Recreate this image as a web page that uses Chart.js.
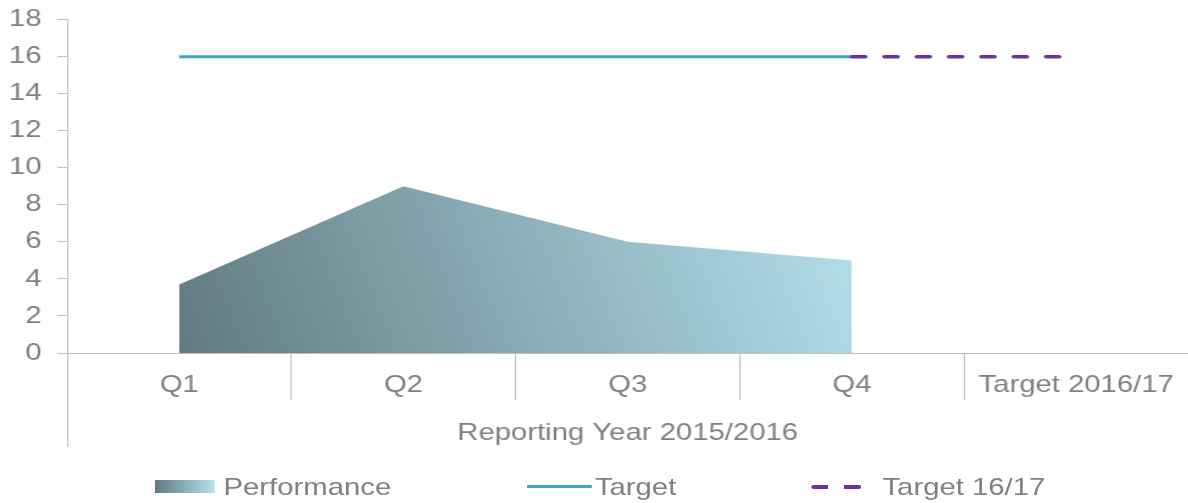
<!DOCTYPE html>
<html>
<head>
<meta charset="utf-8">
<script src="https://cdn.jsdelivr.net/npm/chart.js@4.4.1/dist/chart.umd.min.js"></script>
<style>
  html, body { margin:0; padding:0; background:#fff; overflow:hidden; }
  /* the source picture is stretched sideways, so draw narrow and widen */
  #wrap { width:974px; height:503px; transform:scaleX(1.22); transform-origin:0 0; }
  #legend { height:33px; display:flex; justify-content:center; align-items:center; column-gap:111px;
            padding-left:10px; font:24px 'Liberation Sans', Arial, sans-serif; color:#808080; }
  .item { display:flex; align-items:center; white-space:nowrap; }
  .swatch { width:49px; height:13px; margin-right:7px; background:linear-gradient(to right,#617a80,#b6e2ee); }
  .solid { width:53px; height:3px; margin-right:3px; background:#3fa5c2; }
  .dash { width:41px; height:4px; margin-right:17px; border-radius:2px;
          background:repeating-linear-gradient(to right,#7030a0 0 14px,transparent 14px 27px); }
</style>
</head>
<body>
<div id="wrap">
  <canvas id="chart" width="974" height="470"></canvas>
  <div id="legend"></div>
</div>
<script>
// data
const categories = ["Q1", "Q2", "Q3", "Q4", "Target 2016/17"];
const performance = [3.7, 9, 6, 5, null];
const target = [16, 16, 16, 16, null];
const target1617 = [null, null, null, 16, 16];
const yMin = 0, yMax = 18, yStep = 2;
const xTitle = "Reporting Year 2015/2016";
const seriesNames = ["Performance", "Target", "Target 16/17"];

const grey = "#808080";
const axisGrey = "#bfbfbf";
const font = { family: "'Liberation Sans', Arial, sans-serif", size: 24 };

function areaFill(c) {
  const chart = c.chart;
  const area = chart.chartArea;
  if (!area) return "#8fb0b8";
  const x = chart.scales.x;
  const g = chart.ctx.createLinearGradient(x.getPixelForValue(0), area.bottom, x.getPixelForValue(3), area.bottom - 180);
  g.addColorStop(0, "#617a80");
  g.addColorStop(1, "#b6e2ee");
  return g;
}

// y axis line carries on down past the category labels
const axisExtend = {
  id: "axisExtend",
  afterDraw(chart) {
    const ctx = chart.ctx;
    const x = Math.round(chart.scales.x.left) + 0.5;
    const b = chart.chartArea.bottom;
    ctx.save();
    ctx.strokeStyle = axisGrey;
    ctx.lineWidth = 1;
    ctx.beginPath();
    ctx.moveTo(x, b);
    ctx.lineTo(x, b + 94);
    ctx.stroke();
    ctx.restore();
  }
};

const chart = new Chart(document.getElementById("chart"), {
  type: "line",
  data: {
    labels: categories,
    datasets: [
      { label: seriesNames[0], data: performance, fill: "origin", backgroundColor: areaFill,
        borderWidth: 0, pointRadius: 0, tension: 0, order: 3 },
      { label: seriesNames[1], data: target, borderColor: "#3fa5c2", borderWidth: 3,
        pointRadius: 0, fill: false, order: 2 },
      { label: seriesNames[2], data: target1617, borderColor: "#7030a0", borderWidth: 3.5,
        borderDash: [11, 15.5], borderCapStyle: "round", pointRadius: 0, fill: false, order: 1 }
    ]
  },
  options: {
    responsive: false,
    animation: false,
    layout: { padding: { top: 6, right: -4, left: 0, bottom: 0 } },
    plugins: { legend: { display: false }, tooltip: { enabled: false } },
    scales: {
      x: {
        offset: true,
        grid: { offset: true, drawOnChartArea: false, tickLength: 47,
                color: c => c.type === "scale" ? "transparent" : axisGrey },
        border: { color: axisGrey },
        ticks: { color: grey, font: font, padding: -29, maxRotation: 0 },
        title: { display: true, text: xTitle, color: grey, font: font, padding: { top: 0, bottom: 22 } },
        afterFit: s => { s.height = 117; }
      },
      y: {
        min: yMin, max: yMax,
        grid: { drawOnChartArea: false, tickLength: 8, color: axisGrey },
        border: { color: axisGrey },
        ticks: { stepSize: yStep, color: grey, font: Object.assign({}, font, { lineHeight: 0.55 }), padding: 13 },
        afterFit: s => { s.width = 55; }
      }
    }
  },
  plugins: [axisExtend]
});

// legend
const legend = document.getElementById("legend");
const marks = ["swatch", "solid", "dash"];
seriesNames.forEach((name, i) => {
  const item = document.createElement("div");
  item.className = "item";
  const m = document.createElement("span");
  m.className = marks[i];
  const t = document.createElement("span");
  t.textContent = name;
  item.appendChild(m);
  item.appendChild(t);
  legend.appendChild(item);
});
</script>
</body>
</html>
